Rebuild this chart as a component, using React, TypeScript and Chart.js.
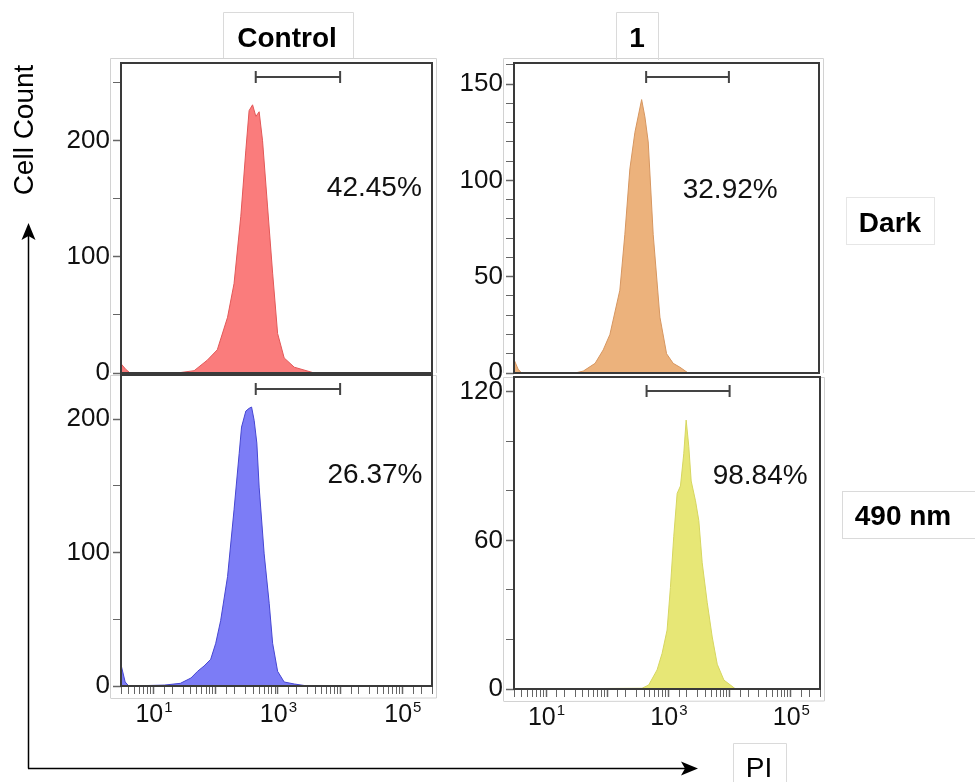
import React, { useEffect, useRef } from 'react';
import { Chart, registerables } from 'chart.js';

Chart.register(...registerables);

const FONT = '"Liberation Sans", Arial, Helvetica, sans-serif';

// ---------- shared axis / text data ----------
const piMin = 3;
const piMax = 300000;
const gateRange = [440, 10000];
const xLabelDecades = [10, 1000, 100000];
const xLabelExponents = ['1', '3', '5'];
const columnTitles = ['Control', '1'];
const rowTitles = ['Dark', '490 nm'];
const yAxisTitle = 'Cell Count';
const xAxisTitle = 'PI';

// ---------- Control / Dark (red) ----------
const controlDarkPI = [3, 3.6, 4.2, 24, 45, 73, 106, 155, 197, 253, 305, 344, 391, 442, 499, 566, 682, 822, 989, 1260, 1830, 3850];
const controlDarkCount = [8, 3, 0, 0, 2, 11, 20, 48, 77, 135, 192, 226, 231, 221, 225, 200, 143, 86, 34, 13, 5, 0];
const controlDarkTicks = [0, 100, 200];
const controlDarkPct = '42.45%';

// ---------- 1 / Dark (orange) ----------
const cpd1DarkPI = [3, 3.5, 4, 30, 41, 64, 87, 112, 163, 197, 238, 288, 371, 420, 476, 574, 740, 952, 1222, 1574, 2150];
const cpd1DarkCount = [7, 2, 0, 0, 1, 5, 12, 20, 43, 72, 106, 125, 142, 133, 120, 72, 29, 10, 5, 3, 0];
const cpd1DarkTicks = [0, 50, 100, 150];
const cpd1DarkPct = '32.92%';

// ---------- Control / 490 nm (blue) ----------
const control490PI = [3, 3.5, 4, 15, 27, 40, 51, 65, 83, 100, 120, 155, 197, 238, 260, 305, 344, 377, 415, 458, 499, 601, 724, 822, 989, 1260, 1830, 3010];
const control490Count = [16, 3, 0, 0.7, 2, 6, 11, 15, 20, 32, 49, 82, 132, 174, 194, 206, 208, 209, 199, 182, 149, 99, 62, 32, 11, 3, 1.5, 0];
const control490Ticks = [0, 100, 200];
const control490Pct = '26.37%';

// ---------- 1 / 490 nm (yellow) ----------
const cpd1490PI = [3, 371, 476, 653, 789, 952, 1079, 1222, 1390, 1574, 1782, 1950, 2153, 2356, 2772, 3141, 3566, 4305, 5200, 6281, 8072, 12530];
const cpd1490Count = [0, 0.3, 1.6, 7.7, 14.4, 23.8, 41, 61.5, 79, 82, 95, 108.6, 98, 84, 76, 68, 51, 35, 21, 10, 3.6, 0];
const cpd1490Ticks = [0, 60, 120];
const cpd1490Pct = '98.84%';

type PanelSpec = {
  key: string;
  xs: number[];
  ys: number[];
  yMax: number;
  yStep: number;
  yLabels: number[];
  fill: string;
  edge: string;
  pct: string;
  pctAt: [number, number];
  left: number;
  top: number;
  w: number;
  h: number;
  bottomAxis: boolean;
};

const panels: PanelSpec[] = [
  {
    key: 'tl', xs: controlDarkPI, ys: controlDarkCount, yMax: 267, yStep: 50, yLabels: controlDarkTicks,
    fill: 'rgb(250,124,124)', edge: 'rgb(226,88,88)', pct: controlDarkPct, pctAt: [35500, 159],
    left: 46, top: 43, w: 394, h: 350, bottomAxis: false,
  },
  {
    key: 'tr', xs: cpd1DarkPI, ys: cpd1DarkCount, yMax: 161, yStep: 10, yLabels: cpd1DarkTicks,
    fill: 'rgb(236,178,124)', edge: 'rgb(214,150,96)', pct: cpd1DarkPct, pctAt: [10500, 95],
    left: 439, top: 43, w: 388, h: 350, bottomAxis: false,
  },
  {
    key: 'bl', xs: control490PI, ys: control490Count, yMax: 233, yStep: 50, yLabels: control490Ticks,
    fill: 'rgb(124,124,246)', edge: 'rgb(70,70,210)', pct: control490Pct, pctAt: [36300, 158],
    left: 46, top: 355, w: 394, h: 376, bottomAxis: true,
  },
  {
    key: 'br', xs: cpd1490PI, ys: cpd1490Count, yMax: 126, yStep: 20, yLabels: cpd1490Ticks,
    fill: 'rgb(231,231,118)', edge: 'rgb(214,214,96)', pct: cpd1490Pct, pctAt: [31600, 86],
    left: 439, top: 357, w: 389, h: 377, bottomAxis: true,
  },
];

const isDecade = (v: number) => {
  const l = Math.log10(v);
  return Math.abs(l - Math.round(l)) < 1e-9;
};

const panelDecor = {
  id: 'panelDecor',
  afterDraw(chart: any, _args: any, o: any) {
    const { ctx, chartArea: a } = chart;
    const xs = chart.scales.x;
    const ys = chart.scales.y;
    ctx.save();
    // light outer frame
    ctx.strokeStyle = '#d2d2d2';
    ctx.lineWidth = 1;
    const ft = o.bottomAxis ? a.top : a.top - 5;
    const fb = o.bottomAxis ? a.bottom + 12 : a.bottom;
    ctx.beginPath();
    ctx.moveTo(a.left - 10.5, fb);
    ctx.lineTo(a.left - 10.5, ft + 0.5);
    ctx.lineTo(a.right + 4.5, ft + 0.5);
    ctx.lineTo(a.right + 4.5, fb);
    if (o.bottomAxis) ctx.lineTo(a.left - 10.5, fb + 0.5);
    ctx.stroke();
    // plot frame
    ctx.strokeStyle = '#3a3a3a';
    ctx.lineWidth = 2;
    ctx.strokeRect(a.left, a.top, a.right - a.left, a.bottom - a.top);
    // gate marker
    const g1 = xs.getPixelForValue(o.gate[0]);
    const g2 = xs.getPixelForValue(o.gate[1]);
    const gy = a.top + 14;
    ctx.strokeStyle = '#444';
    ctx.lineWidth = 2;
    ctx.beginPath();
    ctx.moveTo(g1, gy);
    ctx.lineTo(g2, gy);
    ctx.moveTo(g1, gy - 6);
    ctx.lineTo(g1, gy + 6);
    ctx.moveTo(g2, gy - 6);
    ctx.lineTo(g2, gy + 6);
    ctx.stroke();
    // percent label
    ctx.fillStyle = '#111';
    ctx.font = `28px ${FONT}`;
    ctx.textAlign = 'center';
    ctx.textBaseline = 'middle';
    ctx.fillText(o.pct, xs.getPixelForValue(o.pctAt[0]), ys.getPixelForValue(o.pctAt[1]));
    // decade labels 10^n
    if (o.bottomAxis) {
      ctx.textAlign = 'left';
      ctx.textBaseline = 'alphabetic';
      o.decades.forEach((v: number, i: number) => {
        const px = xs.getPixelForValue(v);
        ctx.font = `25px ${FONT}`;
        const w1 = ctx.measureText('10').width;
        ctx.font = `15px ${FONT}`;
        const w2 = ctx.measureText(o.exps[i]).width;
        const x0 = px - (w1 + w2) / 2;
        ctx.font = `25px ${FONT}`;
        ctx.fillText('10', x0, a.bottom + 36);
        ctx.font = `15px ${FONT}`;
        ctx.fillText(o.exps[i], x0 + w1 + 1, a.bottom + 26);
      });
    }
    ctx.restore();
  },
};

function buildConfig(p: PanelSpec): any {
  const xScale: any = {
    type: 'logarithmic',
    min: piMin,
    max: piMax,
    display: p.bottomAxis,
    border: { display: false },
    grid: {
      drawOnChartArea: false,
      drawTicks: true,
      tickLength: 8,
      tickColor: '#666',
      tickWidth: (c: any) => (c.tick && isDecade(c.tick.value) ? 1.5 : 1),
    },
    ticks: { autoSkip: false, maxRotation: 0, callback: () => '', font: { size: 10 } },
  };
  if (p.bottomAxis) {
    xScale.afterFit = (s: any) => {
      s.height = 45;
    };
  }
  return {
    type: 'line',
    data: {
      datasets: [
        {
          data: p.xs.map((x, i) => ({ x, y: p.ys[i] })),
          fill: 'origin',
          backgroundColor: p.fill,
          borderColor: p.edge,
          borderWidth: 1,
          pointRadius: 0,
          tension: 0,
        },
      ],
    },
    options: {
      responsive: false,
      maintainAspectRatio: false,
      animation: false,
      events: [],
      layout: { padding: { top: 20, right: 8, bottom: p.bottomAxis ? 0 : 20, left: 0 } },
      plugins: {
        legend: { display: false },
        tooltip: { enabled: false },
        panelDecor: {
          gate: gateRange,
          pct: p.pct,
          pctAt: p.pctAt,
          bottomAxis: p.bottomAxis,
          decades: xLabelDecades,
          exps: xLabelExponents,
        },
      },
      scales: {
        x: xScale,
        y: {
          type: 'linear',
          min: 0,
          max: p.yMax,
          border: { display: false },
          grid: {
            drawOnChartArea: false,
            drawTicks: true,
            tickLength: 8,
            tickColor: '#666',
            tickWidth: (c: any) => (c.tick && p.yLabels.some((l) => Math.abs(l - c.tick.value) < 1e-6) ? 1.5 : 1),
          },
          ticks: {
            stepSize: p.yStep,
            autoSkip: false,
            includeBounds: false,
            padding: 3,
            color: '#111',
            font: { family: FONT, size: 26 },
            callback: (v: number) => (p.yLabels.some((l) => Math.abs(l - v) < 1e-6) ? String(v) : ''),
          },
          afterFit: (s: any) => {
            s.width = 75;
          },
        },
      },
    },
    plugins: [panelDecor],
  };
}

function Panel({ p }: { p: PanelSpec }) {
  const ref = useRef<HTMLCanvasElement>(null);
  useEffect(() => {
    const chart = new Chart(ref.current as HTMLCanvasElement, buildConfig(p));
    return () => chart.destroy();
  }, [p]);
  return (
    <canvas
      ref={ref}
      width={p.w}
      height={p.h}
      style={{ position: 'absolute', left: p.left, top: p.top, width: p.w, height: p.h }}
    />
  );
}

export default function App() {
  return (
    <div
      style={{
        position: 'absolute',
        left: 0,
        top: 0,
        width: 975,
        height: 782,
        overflow: 'hidden',
        background: '#fff',
        fontFamily: FONT,
      }}
    >
      {panels.map((p) => (
        <Panel key={p.key} p={p} />
      ))}
      <svg width={975} height={782} style={{ position: 'absolute', left: 0, top: 0, pointerEvents: 'none' }}>
        <g fill="none" stroke="#dadada" strokeWidth={1}>
          <path d="M223.5,58 V12.5 H353.5 V58" />
          <path d="M616.5,60 V12.5 H658.5 V60" />
          <rect x={846.5} y={197.5} width={88} height={47} stroke="#e6e6e6" />
          <rect x={842.5} y={491.5} width={140} height={47} />
          <path d="M733.5,782 V743.5 H786.5 V782" />
        </g>
        <g fontFamily={FONT} fontWeight="bold" fontSize={28} textAnchor="middle" fill="#000">
          <text x={287} y={47}>{columnTitles[0]}</text>
          <text x={637} y={47}>{columnTitles[1]}</text>
          <text x={890} y={232}>{rowTitles[0]}</text>
          <text x={903} y={525}>{rowTitles[1]}</text>
        </g>
        <g fontFamily={FONT} fontSize={28} textAnchor="middle" fill="#000">
          <text x={759} y={777}>{xAxisTitle}</text>
          <text transform="translate(33,130) rotate(-90)">{yAxisTitle}</text>
        </g>
        <g stroke="#000" strokeWidth={1.5} fill="none">
          <path d="M28.5,768.5 V234" />
          <path d="M28,768.5 H688" />
        </g>
        <g fill="#000">
          <path d="M28.5,223 L21.5,240 L28.5,236 L35.5,240 Z" />
          <path d="M698,768.5 L681,761.5 L685,768.5 L681,775.5 Z" />
        </g>
      </svg>
    </div>
  );
}
